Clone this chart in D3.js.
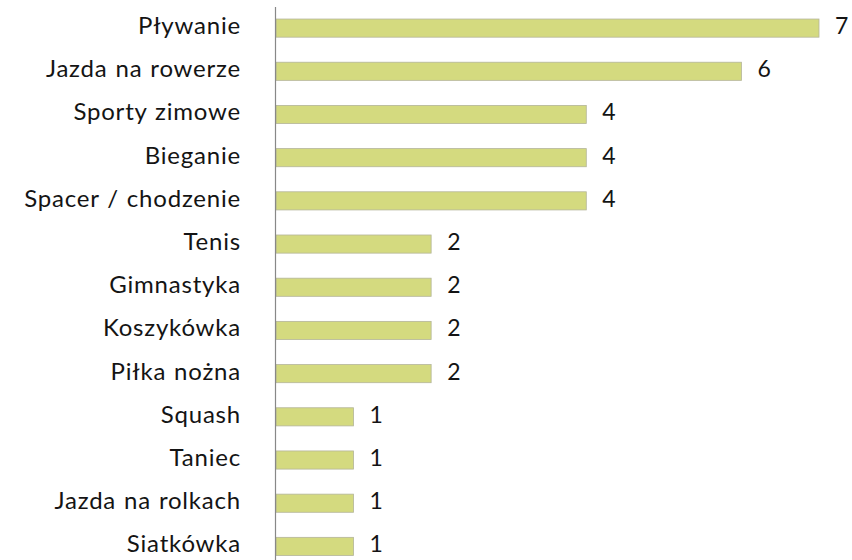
<!DOCTYPE html>
<html>
<head>
    <meta charset="utf-8">
    <script src="https://d3js.org/d3.v7.min.js"></script>
    <style>
        body { margin: 0; background: #fff; }
        text { font-family: "Lato", "Open Sans", sans-serif; fill: #141414; }
    </style>
</head>
<body>
    <div id="chart"></div>
    <script>
        const categories = ["Pływanie", "Jazda na rowerze", "Sporty zimowe", "Bieganie",
            "Spacer / chodzenie", "Tenis", "Gimnastyka", "Koszykówka", "Piłka nożna",
            "Squash", "Taniec", "Jazda na rolkach", "Siatkówka"];
        const values = [7, 6, 4, 4, 4, 2, 2, 2, 2, 1, 1, 1, 1];

        const width = 852, height = 560;
        const svg = d3.select("#chart").append("svg")
            .attr("width", width)
            .attr("height", height);

        const x = d3.scaleLinear().domain([0, 7]).range([276, 819]);
        const y = d3.scaleBand().domain(categories).range([6.5, 568]).paddingInner(0.58).paddingOuter(0.29);

        svg.selectAll(".bar")
            .data(categories)
            .join("rect")
            .attr("class", "bar")
            .attr("x", x(0))
            .attr("y", d => y(d))
            .attr("width", (d, i) => x(values[i]) - x(0))
            .attr("height", y.bandwidth())
            .attr("fill", "#d4da7f")
            .attr("stroke", "#b4b59a")
            .attr("stroke-width", 0.8);

        // vertical axis line
        svg.append("line")
            .attr("x1", 275.5).attr("x2", 275.5)
            .attr("y1", 7).attr("y2", height)
            .attr("stroke", "#888").attr("stroke-width", 1.2);

        svg.selectAll(".cat")
            .data(categories)
            .join("text")
            .attr("class", "cat")
            .attr("x", 241)
            .attr("y", d => y(d) + y.bandwidth() / 2 + 6)
            .attr("text-anchor", "end")
            .attr("font-size", 24)
            .attr("letter-spacing", 0.8)
            .attr("word-spacing", 1)
            .text(d => d);

        svg.selectAll(".val")
            .data(categories)
            .join("text")
            .attr("class", "val")
            .attr("x", (d, i) => x(values[i]) + 16)
            .attr("y", d => y(d) + y.bandwidth() / 2 + 6)
            .attr("font-size", 23)
            .text((d, i) => values[i]);
    </script>
</body>
</html>
